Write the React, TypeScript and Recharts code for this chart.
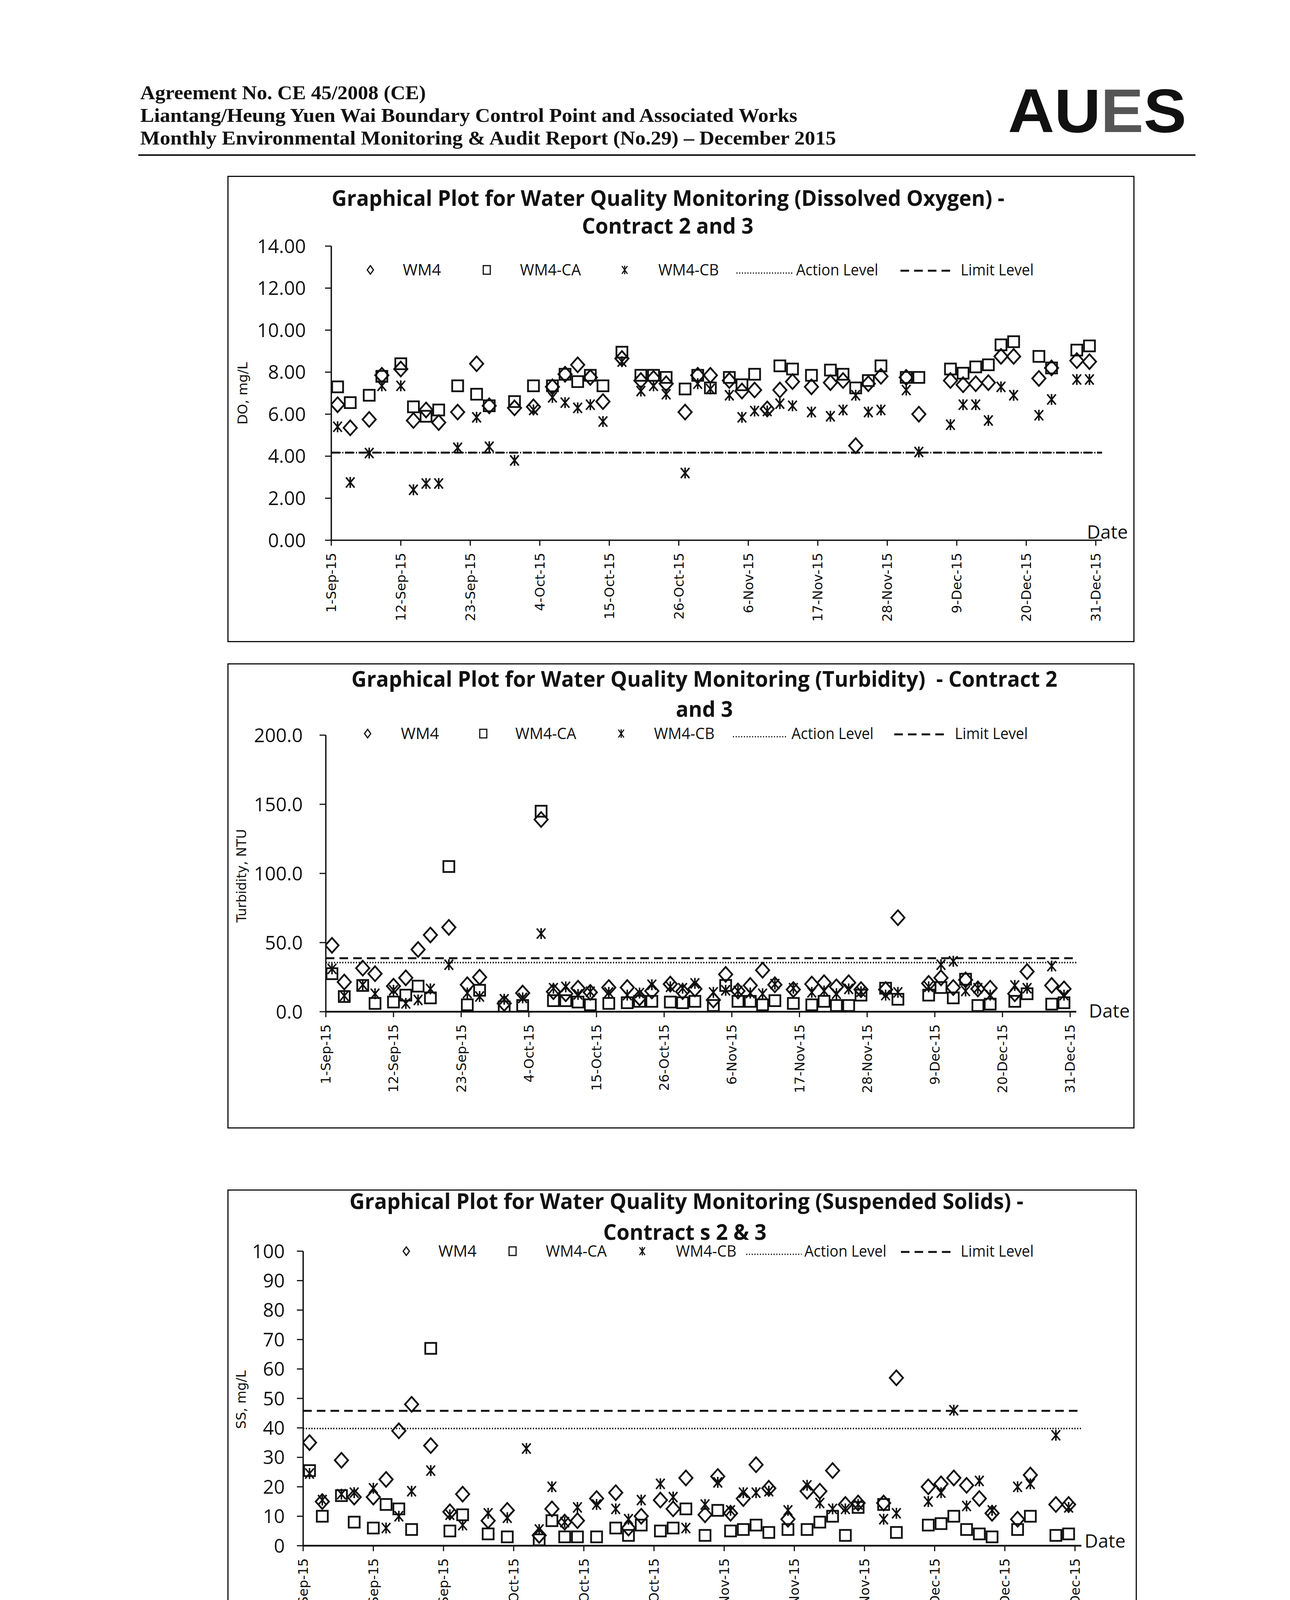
import React from "react";
import { ScatterChart, Scatter, XAxis, YAxis, ReferenceLine } from "recharts";

// sampling days, counted from 1-Sep-2015
const sampleDays = [
  1, 3, 6, 8, 11, 13, 15, 17, 20, 23, 25, 29, 32, 35, 37, 39, 41, 43, 46, 49,
  51, 53, 56, 58, 60, 63, 65, 67, 69, 71, 73, 76, 79, 81, 83, 85, 87, 91, 93,
  98, 100, 102, 104, 106, 108, 112, 114, 118, 120,
];

const dateTicks = [0, 11, 22, 33, 44, 55, 66, 77, 88, 99, 110, 121];
const dateTickLabels = [
  "1-Sep-15", "12-Sep-15", "23-Sep-15", "4-Oct-15", "15-Oct-15", "26-Oct-15",
  "6-Nov-15", "17-Nov-15", "28-Nov-15", "9-Dec-15", "20-Dec-15", "31-Dec-15",
];

// Dissolved oxygen, mg/L
const doWM4 = [
  6.45, 5.35, 5.75, 7.85, 8.15, 5.7, 6.2, 5.6, 6.1, 8.4, 6.4, 6.3, 6.35, 7.3, 7.9, 8.35, 7.75, 6.6, 8.65, 7.6,
  7.7, 7.45, 6.1, 7.85, 7.85, 7.6, 7.1, 7.15, 6.25, 7.15, 7.55, 7.3, 7.5, 7.6, 4.5, 7.45, 7.8, 7.75, 6.0,
  7.6, 7.4, 7.45, 7.5, 8.75, 8.75, 7.7, 8.2, 8.55, 8.5,
];
const doWM4CA = [
  7.3, 6.55, 6.9, 7.8, 8.4, 6.35, 5.9, 6.2, 7.35, 6.95, 6.4, 6.6, 7.35, 7.35, 7.9, 7.55, 7.85, 7.35, 8.95, 7.85,
  7.85, 7.75, 7.2, 7.85, 7.25, 7.75, 7.4, 7.9, null, 8.3, 8.15, 7.85, 8.1, 7.9, 7.25, 7.6, 8.3, 7.75, 7.75,
  8.15, 7.95, 8.25, 8.35, 9.3, 9.45, 8.75, 8.2, 9.05, 9.25,
];
const doWM4CB = [
  5.4, 2.75, 4.15, 7.35, 7.35, 2.4, 2.7, 2.7, 4.4, 5.85, 4.45, 3.8, 6.2, 6.8, 6.55, 6.3, 6.45, 5.65, 8.5, 7.1,
  7.35, 6.95, 3.2, 7.45, 7.2, 6.9, 5.85, 6.15, 6.15, 6.5, 6.4, 6.1, 5.9, 6.2, 6.9, 6.1, 6.2, 7.15, 4.2,
  5.5, 6.45, 6.45, 5.7, 7.3, 6.9, 5.95, 6.7, 7.65, 7.65,
];
const doTicks = [0, 2, 4, 6, 8, 10, 12, 14];
const doAction = 4.17;
const doLimit = 4.17;

// Turbidity, NTU
const turbWM4 = [
  48, 21.5, 31.5, 27.5, 18.5, 24.5, 45, 55.5, 61, 19.5, 25, 6, 13.5, 139, 14.5, 13, 17, 14, 17.5, 17.5,
  10, 15, 20, 14.5, 16.5, 8.5, 27, 15, 19, 30, 19.5, 16, 20, 21, 18, 21, 16, 16, 68,
  20.5, 24.5, 17.5, 23, 16.5, 17, 13, 29, 19, 16.5,
];
const turbWM4CA = [
  27.5, 11, 19, 6, 7, 12, 18.5, 10, 105, 5, 15.5, 3.5, 4.5, 145, 8, 8, 7, 5, 6, 6.5,
  7.5, 7.5, 7, 6.5, 7.5, 4.5, 19, 7.5, 7.5, 5, 8, 6, 5, 7.5, 4.5, 4.5, 12, 17, 9,
  12, 17.5, 10, 23.5, 4.5, 5.5, 7.5, 13, 5.5, 6.5,
];
const turbWM4CB = [
  31, 11.5, 19.5, 13, 15.5, 6, 8.5, 16.5, 34, 13.5, 11, 9, 10, 56.5, 17, 18, 12.5, 14.5, 14, 12,
  13.5, 19.5, 18, 17, 20.5, 14, 15.5, 15, 13.5, 13, 20, 17, 14, 15, 13, 16.5, 14.5, 12, 14,
  18, 34, 36.5, 15, 17, 12, 19, 17, 33, 12,
];
const turbTicks = [0, 50, 100, 150, 200];
const turbAction = 35.5;
const turbLimit = 38.7;

// Suspended solids, mg/L
const ssWM4 = [
  35, 15, 29, 16.5, 16.5, 22.5, 39, 48, 34, 11.5, 17.5, 8.5, 12, null, 3.5, 12.5, 8, 8.5, 16, 18,
  6, 10, 15.5, 12.5, 23, 10.5, 23.5, 11, 16, 27.5, 19.5, 9, 18.5, 18.5, 25.5, 14, 14.5, 14.5, 57,
  20, 21, 23, 20.5, 16, 11, 9, 24, 14, 14,
];
const ssWM4CA = [
  25.5, 10, 17, 8, 6, 14, 12.5, 5.5, 67, 5, 10.5, 4, 3, null, 2, 8.5, 3, 3, 3, 6,
  3.5, 7, 5, 6, 12.5, 3.5, 12, 5, 5.5, 7, 4.5, 5.5, 5.5, 8, 10, 3.5, 13, 14, 4.5,
  7, 7.5, 10, 5.5, 4, 3, 5.5, 10, 3.5, 4,
];
const ssWM4CB = [
  24.5, 15.5, 17.5, 18, 19.5, 6, 10, 18.5, 25.5, 10.5, 7, 11, 9.5, 33, 5.5, 20, 8, 13, 14, 12.5,
  9, 15.5, 21, 16.5, 6, 14, 21.5, 12, 18, 18, 18.5, 12, 20.5, 14.5, 12.5, 12.5, 14, 9, 11,
  15, 18, 46, 13.5, 22, 12, 20, 21, 37.5, 13,
];
const ssTicks = [0, 10, 20, 30, 40, 50, 60, 70, 80, 90, 100];
const ssAction = 39.8;
const ssLimit = 45.8;

if (typeof document !== "undefined") {
  document.body.style.margin = "0";
}

const toPoints = (vals: (number | null)[]) =>
  sampleDays
    .map((d, i) => ({ x: d, y: vals[i] }))
    .filter((p) => p.y !== null && p.y !== undefined);

const INK = "#111";

// markers
const Diamond = (p: any) => {
  const { cx, cy } = p;
  return (
    <path
      d={`M${cx} ${cy - 19}L${cx + 17} ${cy}L${cx} ${cy + 19}L${cx - 17} ${cy}Z`}
      fill="none"
      stroke={INK}
      strokeWidth={4.5}
    />
  );
};
const Square = (p: any) => {
  const { cx, cy } = p;
  return <rect x={cx - 14} y={cy - 14} width={28} height={28} fill="none" stroke={INK} strokeWidth={4.5} />;
};
const Star = (p: any) => {
  const { cx, cy } = p;
  return (
    <g stroke={INK} strokeWidth={4} fill="none">
      <line x1={cx} y1={cy - 14} x2={cx} y2={cy + 14} />
      <line x1={cx - 11} y1={cy - 13} x2={cx + 11} y2={cy + 13} />
      <line x1={cx + 11} y1={cy - 13} x2={cx - 11} y2={cy + 13} />
    </g>
  );
};

const XTick = (p: any) => {
  const { x, y, payload } = p;
  const i = dateTicks.indexOf(payload.value);
  const ty = y + 16;
  return (
    <text
      x={x}
      y={ty}
      transform={`rotate(-90 ${x} ${ty})`}
      textAnchor="end"
      dy="0.36em"
      fontFamily="DejaVu Sans"
      fontSize={34}
      fill={INK}
    >
      {dateTickLabels[i]}
    </text>
  );
};

const makeYTick = (decimals: number) => (p: any) => {
  const { x, y, payload } = p;
  return (
    <text x={x} y={y} textAnchor="end" dy="0.36em" fontFamily="Open Sans" fontSize={49} fill={INK}>
      {Number(payload.value).toFixed(decimals)}
    </text>
  );
};

type LegendPos = {
  y: number;
  d: number; wm4: number; s: number; ca: number; st: number; cb: number;
  dot0: number; dot1: number; act: number; dash0: number; dash1: number; lim: number;
};

const LegendRow = ({ l }: { l: LegendPos }) => {
  const t = { fontFamily: "Open Sans", fontSize: 40, fill: INK, lengthAdjust: "spacingAndGlyphs" as const };
  const by = l.y + 14;
  return (
    <g>
      <path d={`M${l.d} ${l.y - 11}L${l.d + 8} ${l.y}L${l.d} ${l.y + 11}L${l.d - 8} ${l.y}Z`} fill="none" stroke={INK} strokeWidth={3} />
      <text x={l.wm4} y={by} textLength={98} {...t}>WM4</text>
      <rect x={l.s - 9} y={l.y - 11} width={18} height={22} fill="none" stroke={INK} strokeWidth={3} />
      <text x={l.ca} y={by} textLength={156} {...t}>WM4-CA</text>
      <g stroke={INK} strokeWidth={3}>
        <line x1={l.st} y1={l.y - 11} x2={l.st} y2={l.y + 11} />
        <line x1={l.st - 7} y1={l.y - 10} x2={l.st + 7} y2={l.y + 10} />
        <line x1={l.st + 7} y1={l.y - 10} x2={l.st - 7} y2={l.y + 10} />
      </g>
      <text x={l.cb} y={by} textLength={155} {...t}>WM4-CB</text>
      <line x1={l.dot0} y1={l.y + 8} x2={l.dot1} y2={l.y + 8} stroke={INK} strokeWidth={3} strokeDasharray="3 4" />
      <text x={l.act} y={by} textLength={210} {...t}>Action Level</text>
      <line x1={l.dash0} y1={l.y + 2} x2={l.dash1} y2={l.y + 2} stroke={INK} strokeWidth={5} strokeDasharray="22 13" />
      <text x={l.lim} y={by} textLength={187} {...t}>Limit Level</text>
    </g>
  );
};

type ChartCfg = {
  box: { x: number; y: number; w: number; h: number };
  margin: { top: number; right: number; bottom: number; left: number };
  yDomain: [number, number];
  yTicks: number[];
  decimals: number;
  tickMargin: number;
  wm4: (number | null)[];
  ca: (number | null)[];
  cb: (number | null)[];
  action: number;
  limit: number;
  title1: { text: string; x: number; y: number; len: number };
  title2: { text: string; x: number; y: number; len: number };
  legend: LegendPos;
  yLabel: { text: string; x: number; y: number };
  date: { x: number; y: number };
  xAxisWidth: number;
};

const WQChart = ({ c }: { c: ChartCfg }) => {
  const { box } = c;
  const tt = { fontFamily: "Open Sans", fontWeight: 700, fontSize: 56, fill: INK, textAnchor: "middle" as const, lengthAdjust: "spacingAndGlyphs" as const };
  return (
    <div style={{ position: "absolute", left: box.x, top: box.y, width: box.w, height: box.h }}>
      <ScatterChart width={box.w} height={box.h} margin={c.margin}>
        <XAxis
          type="number"
          dataKey="x"
          domain={[0, 122]}
          ticks={dateTicks}
          interval={0}
          allowDataOverflow
          height={30}
          tick={<XTick />}
          tickSize={14}
          tickMargin={2}
          axisLine={{ stroke: INK, strokeWidth: c.xAxisWidth }}
          tickLine={{ stroke: INK, strokeWidth: 3 }}
        />
        <YAxis
          type="number"
          dataKey="y"
          domain={c.yDomain}
          ticks={c.yTicks}
          interval={0}
          allowDataOverflow
          width={60}
          tick={makeYTick(c.decimals)}
          tickSize={16}
          tickMargin={c.tickMargin}
          axisLine={{ stroke: INK, strokeWidth: 3.5 }}
          tickLine={{ stroke: INK, strokeWidth: 3 }}
        />
        <ReferenceLine y={c.limit} stroke={INK} strokeWidth={5} strokeDasharray="22 13" />
        <ReferenceLine y={c.action} stroke={INK} strokeWidth={4} strokeDasharray="3 4" />
        <Scatter name="WM4" data={toPoints(c.wm4)} shape={Diamond} isAnimationActive={false} />
        <Scatter name="WM4-CA" data={toPoints(c.ca)} shape={Square} isAnimationActive={false} />
        <Scatter name="WM4-CB" data={toPoints(c.cb)} shape={Star} isAnimationActive={false} />
      </ScatterChart>
      <svg width={box.w} height={box.h} style={{ position: "absolute", left: 0, top: 0, pointerEvents: "none" }}>
        <text x={c.title1.x} y={c.title1.y} textLength={c.title1.len} xmlSpace="preserve" {...tt}>{c.title1.text}</text>
        <text x={c.title2.x} y={c.title2.y} textLength={c.title2.len} {...tt}>{c.title2.text}</text>
        <LegendRow l={c.legend} />
        <text
          x={c.yLabel.x}
          y={c.yLabel.y}
          transform={`rotate(-90 ${c.yLabel.x} ${c.yLabel.y})`}
          textAnchor="middle"
          dy="0.36em"
          fontFamily="DejaVu Sans"
          fontSize={34}
          fill={INK}
        >
          {c.yLabel.text}
        </text>
        <text x={c.date.x} y={c.date.y} textLength={105} lengthAdjust="spacingAndGlyphs" fontFamily="Open Sans" fontSize={48} fill={INK}>
          Date
        </text>
      </svg>
      <div style={{ position: "absolute", left: 0, top: 0, width: box.w, height: box.h, border: `3px solid ${INK}`, boxSizing: "border-box" }} />
    </div>
  );
};

const charts: ChartCfg[] = [
  {
    box: { x: 582, y: 450, w: 2322, h: 1194 },
    margin: { top: 180, right: 83, bottom: 231, left: 206 },
    yDomain: [0, 14],
    yTicks: doTicks,
    decimals: 2,
    tickMargin: 49,
    wm4: doWM4,
    ca: doWM4CA,
    cb: doWM4CB,
    action: doAction,
    limit: doLimit,
    title1: { text: "Graphical Plot for Water Quality Monitoring (Dissolved Oxygen) -", x: 1128, y: 77, len: 1722 },
    title2: { text: "Contract 2 and 3", x: 1127, y: 148, len: 439 },
    legend: { y: 241, d: 366, wm4: 449, s: 664, ca: 749, st: 1017, cb: 1103, dot0: 1303, dot1: 1448, act: 1456, dash0: 1723, dash1: 1850, lim: 1877 },
    yLabel: { text: "DO, mg/L", x: 39, y: 557 },
    date: { x: 2200, y: 929 },
    xAxisWidth: 3.5,
  },
  {
    box: { x: 582, y: 1698, w: 2322, h: 1191 },
    margin: { top: 184, right: 149, bottom: 269, left: 192 },
    yDomain: [0, 200],
    yTicks: turbTicks,
    decimals: 1,
    tickMargin: 43,
    wm4: turbWM4,
    ca: turbWM4CA,
    cb: turbWM4CB,
    action: turbAction,
    limit: turbLimit,
    title1: { text: "Graphical Plot for Water Quality Monitoring (Turbidity)\u00a0 - Contract 2", x: 1221, y: 60, len: 1807 },
    title2: { text: "and 3", x: 1221, y: 137, len: 146 },
    legend: { y: 180, d: 359, wm4: 444, s: 655, ca: 737, st: 1008, cb: 1092, dot0: 1294, dot1: 1433, act: 1444, dash0: 1707, dash1: 1835, lim: 1862 },
    yLabel: { text: "Turbidity, NTU", x: 36, y: 544 },
    date: { x: 2205, y: 907 },
    xAxisWidth: 4.5,
  },
  {
    box: { x: 582, y: 3045, w: 2328, h: 1200 },
    margin: { top: 158, right: 142, bottom: 258, left: 134 },
    yDomain: [0, 100],
    yTicks: ssTicks,
    decimals: 0,
    tickMargin: 31,
    wm4: ssWM4,
    ca: ssWM4CA,
    cb: ssWM4CB,
    action: ssAction,
    limit: ssLimit,
    title1: { text: "Graphical Plot for Water Quality Monitoring (Suspended Solids) -", x: 1175, y: 50, len: 1725 },
    title2: { text: "Contract s 2 & 3", x: 1171, y: 129, len: 418 },
    legend: { y: 158, d: 458, wm4: 540, s: 730, ca: 815, st: 1062, cb: 1148, dot0: 1328, dot1: 1470, act: 1477, dash0: 1724, dash1: 1855, lim: 1877 },
    yLabel: { text: "SS, mg/L", x: 35, y: 538 },
    date: { x: 2194, y: 917 },
    xAxisWidth: 4.5,
  },
];

export default function App() {
  const serif = { fontFamily: "Liberation Serif", fontWeight: 700, fontSize: 50, fill: INK, lengthAdjust: "spacingAndGlyphs" as const };
  return (
    <div style={{ position: "relative", width: 3302, height: 4669, background: "#fff", overflow: "hidden" }}>
      <svg width={3302} height={4669} style={{ position: "absolute", left: 0, top: 0 }}>
        <text x={359} y={254} textLength={731} {...serif}>Agreement No. CE 45/2008 (CE)</text>
        <text x={359} y={312} textLength={1682} {...serif}>Liantang/Heung Yuen Wai Boundary Control Point and Associated Works</text>
        <text x={359} y={370} textLength={1781} {...serif}>Monthly Environmental Monitoring &amp; Audit Report (No.29) – December 2015</text>
        <line x1={354} y1={397} x2={3060} y2={397} stroke={INK} strokeWidth={4} />
        <text x={2580} y={338} textLength={457} lengthAdjust="spacingAndGlyphs" fontFamily="Liberation Sans" fontWeight={700} fontSize={157} fill={INK}>
          AU<tspan fill="#555">E</tspan>S
        </text>
        <line x1={422} y1={4399} x2={3073} y2={4399} stroke={INK} strokeWidth={3} />
        <text x={435} y={4452} textLength={1741} lengthAdjust="spacingAndGlyphs" fontFamily="Liberation Serif" fontSize={40} fill={INK}>
          Z:\Jobs\2013\TCS00694\600\EM&amp;A Report\Monthly EM&amp;A Report\29th (Dec 2015)\R0093v2.docx
        </text>
      </svg>
      {charts.map((c, i) => (
        <WQChart key={i} c={c} />
      ))}
    </div>
  );
}
